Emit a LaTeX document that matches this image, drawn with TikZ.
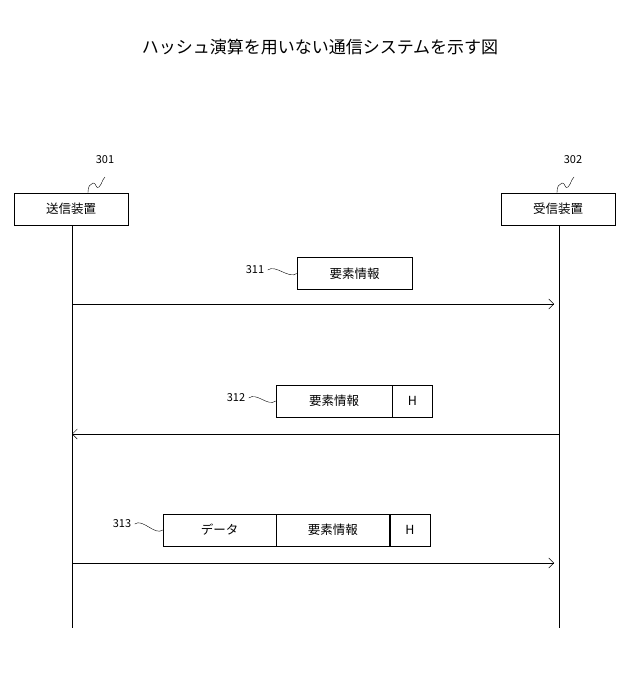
\documentclass[tikz,border=0pt]{standalone}
\usepackage{fontspec}
\setmainfont{Noto Sans CJK JP}
\usetikzlibrary{arrows.meta}
\tikzset{
  dev/.style={draw, minimum width=114pt, minimum height=32pt, inner sep=0pt, font=\fontsize{12.5}{12.5}\selectfont},
  fld/.style={draw, minimum height=32pt, inner sep=0pt, font=\fontsize{12.5}{12.5}\selectfont},
  num/.style={font=\fontsize{11}{11}\selectfont},
  msg/.style={-{Straight Barb[length=5pt,width=10pt]}, thin},
  squig/.style={thin}
}
\begin{document}
\begin{tikzpicture}[x=1pt,y=-1pt]
 \useasboundingbox (0,0) rectangle (622,685);
 \node (title) at (320,47) {\fontsize{17}{17}\selectfont ハッシュ演算を用いない通信システムを示す図};

 % devices
 \node (tx) [dev] at (71,209) {送信装置};
 \node (rx) [dev] at (558,209) {受信装置};
 \node (n301) [num] at (105,160) {301};
 \node (n302) [num] at (573,160) {302};
 \draw [squig] (88,193) .. controls (88,186) and (90,184) .. (93,183) .. controls (96,182) and (96,190) .. (99,187) .. controls (102,184) and (102,180) .. (105,177);
 \draw [squig] (557,193) .. controls (557,186) and (559,184) .. (562,183) .. controls (565,182) and (565,190) .. (568,187) .. controls (571,184) and (571,180) .. (574,177);

 % lifelines
 \coordinate (txend) at (72,628);
 \coordinate (rxend) at (559,628);
 \draw (tx.south -| txend) -- (txend);
 \draw (rx.south -| rxend) -- (rxend);

 % message 311
 \node (m1) [fld, minimum width=115pt] at (354.5,273.5) {要素情報};
 \node (n311) [num] at (255,270) {311};
 \draw [squig] (n311.east) .. controls +(8,-6) and +(-8,6) .. (m1.west);
 \coordinate (a1s) at (72,304); \coordinate (a1e) at (554,304);
 \draw [msg] (a1s) -- (a1e);

 % message 312
 \node (m2a) [fld, minimum width=116pt] at (334,401) {要素情報};
 \node (m2b) [fld, minimum width=40pt, anchor=west] at (m2a.east) {H};
 \node (n312) [num] at (236,398) {312};
 \draw [squig] (n312.east) .. controls +(8,-6) and +(-8,6) .. (m2a.west);
 \coordinate (a2s) at (559,434); \coordinate (a2e) at (72,434);
 \draw [msg] (a2s) -- (a2e);

 % message 313
 \node (m3a) [fld, minimum width=113pt] at (219.5,530) {データ};
 \node (m3b) [fld, minimum width=113pt, anchor=west] at (m3a.east) {要素情報};
 \node (m3c) [fld, minimum width=40pt, anchor=west] at (m3b.east) {H};
 \node (n313) [num] at (122,524) {313};
 \draw [squig] (n313.east) .. controls +(8,-6) and +(-8,6) .. (m3a.west);
 \coordinate (a3s) at (72,563); \coordinate (a3e) at (554,563);
 \draw [msg] (a3s) -- (a3e);
\end{tikzpicture}
\end{document}
